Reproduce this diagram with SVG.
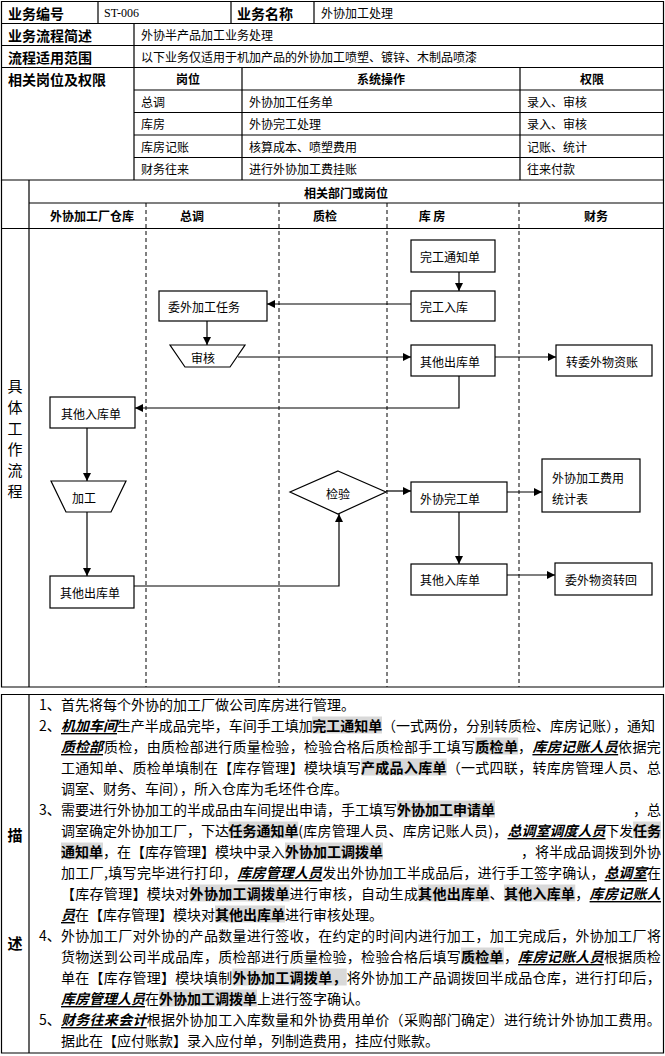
<svg xmlns="http://www.w3.org/2000/svg" width="665" height="1056" viewBox="0 0 665 1056">
<style>
text{font-family:"Noto Sans CJK SC","Noto Sans",sans-serif;fill:#000;dominant-baseline:central}
.hd{font-size:14px;font-weight:bold}
.c{font-size:12px}
.cb{font-size:12px;font-weight:bold;text-anchor:middle}
.ser{font-family:"Liberation Serif",serif;font-size:12px}
.n{font-size:12px}
.vt{font-size:15px;text-anchor:middle}
.vb{font-size:15px;font-weight:bold;text-anchor:middle}
.d{font-size:14px}
.b{font-weight:bold}
.e{font-weight:bold;font-style:italic;text-decoration:underline}
.grid{stroke:#000;stroke-width:1.2;fill:none}
.dash{stroke:#000;stroke-width:1;stroke-dasharray:4,3;fill:none}
.box{fill:#fff;stroke:#000;stroke-width:1.2}
.hl{fill:#d9d9d9}
.conn{stroke:#000;stroke-width:1.2;fill:none;marker-end:url(#ah)}
</style>
<defs>
<marker id="ah" markerUnits="userSpaceOnUse" markerWidth="9" markerHeight="9" refX="8" refY="4" orient="auto">
<path d="M0,0 L8,4 L0,8 z" fill="#000"/>
</marker>
</defs>
<rect width="665" height="1056" fill="#fff"/>

<g id="info-table">
<path class="grid" d="M1.5,1.5H663.5V180H1.5Z M1.5,23.5H663.5 M1.5,45.5H663.5 M1.5,67.5H663.5 M134,90H663.5 M134,112.5H663.5 M134,135H663.5 M134,157.5H663.5 M98,1.5V23.5 M231,1.5V23.5 M314,1.5V23.5 M134,23.5V180 M242,67.5V180 M520,67.5V180"/>
<text class="hd" x="8" y="12.5">业务编号</text>
<text class="ser" x="104" y="12.5">ST-006</text>
<text class="hd" x="237" y="12.5">业务名称</text>
<text class="c" x="321" y="12.5">外协加工处理</text>
<text class="hd" x="8" y="34.5">业务流程简述</text>
<text class="c" x="141" y="34.5">外协半产品加工业务处理</text>
<text class="hd" x="8" y="56.5">流程适用范围</text>
<text class="c" x="141" y="56.5">以下业务仅适用于机加产品的外协加工喷塑、镀锌、木制品喷漆</text>
<text class="hd" x="8" y="78.5">相关岗位及权限</text>
<text class="cb" x="188" y="78.5">岗位</text>
<text class="cb" x="381" y="78.5">系统操作</text>
<text class="cb" x="592" y="78.5">权限</text>
<text class="c" x="141" y="101">总调</text>
<text class="c" x="249" y="101">外协加工任务单</text>
<text class="c" x="527" y="101">录入、审核</text>
<text class="c" x="141" y="123.5">库房</text>
<text class="c" x="249" y="123.5">外协完工处理</text>
<text class="c" x="527" y="123.5">录入、审核</text>
<text class="c" x="141" y="146">库房记账</text>
<text class="c" x="249" y="146">核算成本、喷塑费用</text>
<text class="c" x="527" y="146">记账、统计</text>
<text class="c" x="141" y="168.5">财务往来</text>
<text class="c" x="249" y="168.5">进行外协加工费挂账</text>
<text class="c" x="527" y="168.5">往来付款</text>
</g>

<g id="swimlanes">
<path class="grid" d="M1.5,180V687H663.5V180 M29,180V687 M29,203H663.5 M1.5,228.5H663.5"/>
<path class="dash" d="M146,203V687 M279,203V687 M387,203V687 M519,203V687"/>
<text class="cb" x="346" y="192">相关部门或岗位</text>
<text class="cb" x="92" y="215.5">外协加工厂仓库</text>
<text class="cb" x="192" y="215.5">总调</text>
<text class="cb" x="325" y="215.5">质检</text>
<text class="cb" x="432" y="215.5" xml:space="preserve">库 房</text>
<text class="cb" x="596" y="215.5">财务</text>
<text class="vt" x="15" y="385">具</text>
<text class="vt" x="15" y="406">体</text>
<text class="vt" x="15" y="427">工</text>
<text class="vt" x="15" y="448">作</text>
<text class="vt" x="15" y="469">流</text>
<text class="vt" x="15" y="490">程</text>
</g>

<g id="connectors">
<path class="conn" d="M459,272V291"/>
<path class="conn" d="M411,304H267"/>
<path class="conn" d="M207,321V345"/>
<path class="conn" d="M238,357H411"/>
<path class="conn" d="M495,357H556"/>
<path class="conn" d="M459,376V408H135"/>
<path class="conn" d="M87,428V481"/>
<path class="conn" d="M87,512V576"/>
<path class="conn" d="M134,586H339V514"/>
<path class="conn" d="M386,491H411"/>
<path class="conn" d="M507,492H542"/>
<path class="conn" d="M459,512V564"/>
<path class="conn" d="M507,575H555"/>
</g>

<g id="n-wangong-tongzhi"><rect class="box" x="411" y="240" width="84" height="32"/><text class="n" x="420" y="256.5">完工通知单</text></g>
<g id="n-wangong-ruku"><rect class="box" x="411" y="291" width="84" height="30"/><text class="n" x="420" y="306">完工入库</text></g>
<g id="n-weiwai-renwu"><rect class="box" x="159" y="291" width="108" height="30"/><text class="n" x="168" y="306">委外加工任务</text></g>
<g id="n-shenhe"><path class="box" d="M170,345H245L230,367H185Z"/><text class="n" x="191" y="357">审核</text></g>
<g id="n-qita-chuku-kf"><rect class="box" x="411" y="345" width="84" height="31"/><text class="n" x="420" y="361">其他出库单</text></g>
<g id="n-zhuan-weiwai"><rect class="box" x="556" y="345" width="96" height="31"/><text class="n" x="566" y="361">转委外物资账</text></g>
<g id="n-qita-ruku-wx"><rect class="box" x="50" y="397" width="85" height="31"/><text class="n" x="61" y="413">其他入库单</text></g>
<g id="n-jiagong"><path class="box" d="M51,481H126L111,512H66Z"/><text class="n" x="72" y="497">加工</text></g>
<g id="n-qita-chuku-wx"><rect class="box" x="50" y="576" width="84" height="32"/><text class="n" x="60" y="592">其他出库单</text></g>
<g id="n-jianyan"><path class="box" d="M338,471L386,492L338,514L290,492Z"/><text class="n" x="338" y="493" text-anchor="middle">检验</text></g>
<g id="n-waixie-wangong"><rect class="box" x="411" y="482" width="96" height="30"/><text class="n" x="420" y="498">外协完工单</text></g>
<g id="n-feiyong-tongji"><rect class="box" x="542" y="459" width="98" height="53"/><text class="n" x="552" y="477">外协加工费用</text><text class="n" x="552" y="498">统计表</text></g>
<g id="n-qita-ruku-kf"><rect class="box" x="411" y="564" width="96" height="31"/><text class="n" x="420" y="579">其他入库单</text></g>
<g id="n-weiwai-zhuanhui"><rect class="box" x="555" y="563" width="97" height="32"/><text class="n" x="565" y="579">委外物资转回</text></g>

<g id="description">
<path class="grid" d="M1.5,694.5H663.5V1053H1.5Z M29,694.5V1053"/>
<text class="vb" x="15" y="834">描</text>
<text class="vb" x="15" y="942">述</text>
<g id="highlights">
<rect class="hl" x="312.2" y="716.5" width="69.8" height="17"/>
<rect class="hl" x="475.3" y="737.5" width="42.9" height="17"/>
<rect class="hl" x="361" y="758.5" width="85.7" height="17"/>
<rect class="hl" x="397" y="800.5" width="98" height="17"/>
<rect class="hl" x="228.4" y="821.5" width="69.8" height="17"/>
<rect class="hl" x="633.1" y="821.5" width="27.9" height="17"/>
<rect class="hl" x="61" y="842.5" width="42" height="17"/>
<rect class="hl" x="285" y="842.5" width="98" height="17"/>
<rect class="hl" x="189.6" y="884.5" width="100" height="17"/>
<rect class="hl" x="418.1" y="884.5" width="71.4" height="17"/>
<rect class="hl" x="503.9" y="884.5" width="71.4" height="17"/>
<rect class="hl" x="215" y="905.5" width="70" height="17"/>
<rect class="hl" x="461" y="947.5" width="42.9" height="17"/>
<rect class="hl" x="232.4" y="968.5" width="114.3" height="17"/>
<rect class="hl" x="159" y="989.5" width="98" height="17"/>
</g>
<text class="d" x="39" y="704">1、</text>
<text class="d" x="61" y="704">首先将每个外协的加工厂做公司库房进行管理。</text>

<text class="d" x="39" y="725">2、</text>
<text class="d e" x="61" y="725">机加车间</text>
<text class="d" x="116.8" y="725">生产半成品完毕，车间手工填加</text>
<text class="d b" x="312.2" y="725">完工通知单</text>
<text class="d" x="381.9" y="725">（一式两份，分别转质检、库房记账），通知</text>

<text class="d e" x="61" y="746">质检部</text>
<text class="d" x="103.9" y="746" letter-spacing="0.29">质检，由质检部进行质量检验，检验合格后质检部手工填写</text>
<text class="d b" x="475.3" y="746" letter-spacing="0.29">质检单</text>
<text class="d" x="518.1" y="746">，</text>
<text class="d e" x="532.4" y="746" letter-spacing="0.29">库房记账人员</text>
<text class="d" x="618.1" y="746" letter-spacing="0.29">依据完</text>

<text class="d" x="61" y="767" letter-spacing="0.29">工通知单、质检单填制在【库存管理】模块填写</text>
<text class="d b" x="361" y="767" letter-spacing="0.29">产成品入库单</text>
<text class="d" x="446.7" y="767" letter-spacing="0.29">（一式四联，转库房管理人员、总</text>

<text class="d" x="61" y="788">调室、财务、车间），所入仓库为毛坯件仓库。</text>

<text class="d" x="39" y="809">3、</text>
<text class="d" x="61" y="809">需要进行外协加工的半成品由车间提出申请，手工填写</text>
<text class="d b" x="397" y="809">外协加工申请单</text>
<text class="d" x="633" y="809">，总</text>

<text class="d" x="61" y="830">调室确定外协加工厂，下达</text>
<text class="d b" x="228.4" y="830">任务通知单</text>
<text class="d" x="298.2" y="830" textLength="209" lengthAdjust="spacing">(库房管理人员、库房记账人员)，</text>
<text class="d e" x="507.5" y="830">总调室调度人员</text>
<text class="d" x="605.2" y="830">下发</text>
<text class="d b" x="633.1" y="830">任务</text>

<text class="d b" x="61" y="851">通知单</text>
<text class="d" x="103" y="851">，在【库存管理】模块中录入</text>
<text class="d b" x="285" y="851">外协加工调拨单</text>
<text class="d" x="521" y="851">，将半成品调拨到外协</text>

<text class="d" x="61" y="872" textLength="176" lengthAdjust="spacing">加工厂,填写完毕进行打印，</text>
<text class="d e" x="237.5" y="872" letter-spacing="0.12">库房管理人员</text>
<text class="d" x="322.2" y="872" letter-spacing="0.12">发出外协加工半成品后，进行手工签字确认，</text>
<text class="d e" x="604.5" y="872" letter-spacing="0.12">总调室</text>
<text class="d" x="646.9" y="872">在</text>

<text class="d" x="61" y="893" letter-spacing="0.29">【库存管理】模块对</text>
<text class="d b" x="189.6" y="893" letter-spacing="0.29">外协加工调拨单</text>
<text class="d" x="289.6" y="893" letter-spacing="0.29">进行审核，自动生成</text>
<text class="d b" x="418.1" y="893" letter-spacing="0.29">其他出库单</text>
<text class="d" x="489.6" y="893">、</text>
<text class="d b" x="503.9" y="893" letter-spacing="0.29">其他入库单</text>
<text class="d" x="575.3" y="893">，</text>
<text class="d e" x="589.6" y="893" letter-spacing="0.29">库房记账人</text>

<text class="d e" x="61" y="914">员</text>
<text class="d" x="75" y="914">在【库存管理】模块对</text>
<text class="d b" x="215" y="914">其他出库单</text>
<text class="d" x="285" y="914">进行审核处理。</text>

<text class="d" x="39" y="935">4、</text>
<text class="d" x="61" y="935" letter-spacing="0.29">外协加工厂对外协的产品数量进行签收，在约定的时间内进行加工，加工完成后，外协加工厂将</text>

<text class="d" x="61" y="956" letter-spacing="0.29">货物送到公司半成品库，质检部进行质量检验，检验合格后填写</text>
<text class="d b" x="461" y="956" letter-spacing="0.29">质检单</text>
<text class="d" x="503.9" y="956">，</text>
<text class="d e" x="518.1" y="956" letter-spacing="0.29">库房记账人员</text>
<text class="d" x="603.9" y="956" letter-spacing="0.29">根据质检</text>

<text class="d" x="61" y="977" letter-spacing="0.29">单在【库存管理】模块填制</text>
<text class="d b" x="232.4" y="977" letter-spacing="0.29">外协加工调拨单，</text>
<text class="d" x="346.7" y="977" letter-spacing="0.29">将外协加工产品调拨回半成品仓库，进行打印后，</text>

<text class="d e" x="61" y="998">库房管理人员</text>
<text class="d" x="145" y="998">在</text>
<text class="d b" x="159" y="998">外协加工调拨单</text>
<text class="d" x="257" y="998">上进行签字确认。</text>

<text class="d" x="39" y="1019">5、</text>
<text class="d e" x="61" y="1019" letter-spacing="0.29">财务往来会计</text>
<text class="d" x="146.7" y="1019" letter-spacing="0.29">根据外协加工入库数量和外协费用单价（采购部门确定）进行统计外协加工费用。</text>

<text class="d" x="61" y="1040">据此在【应付账款】录入应付单，列制造费用，挂应付账款。</text>
</g>
</svg>
